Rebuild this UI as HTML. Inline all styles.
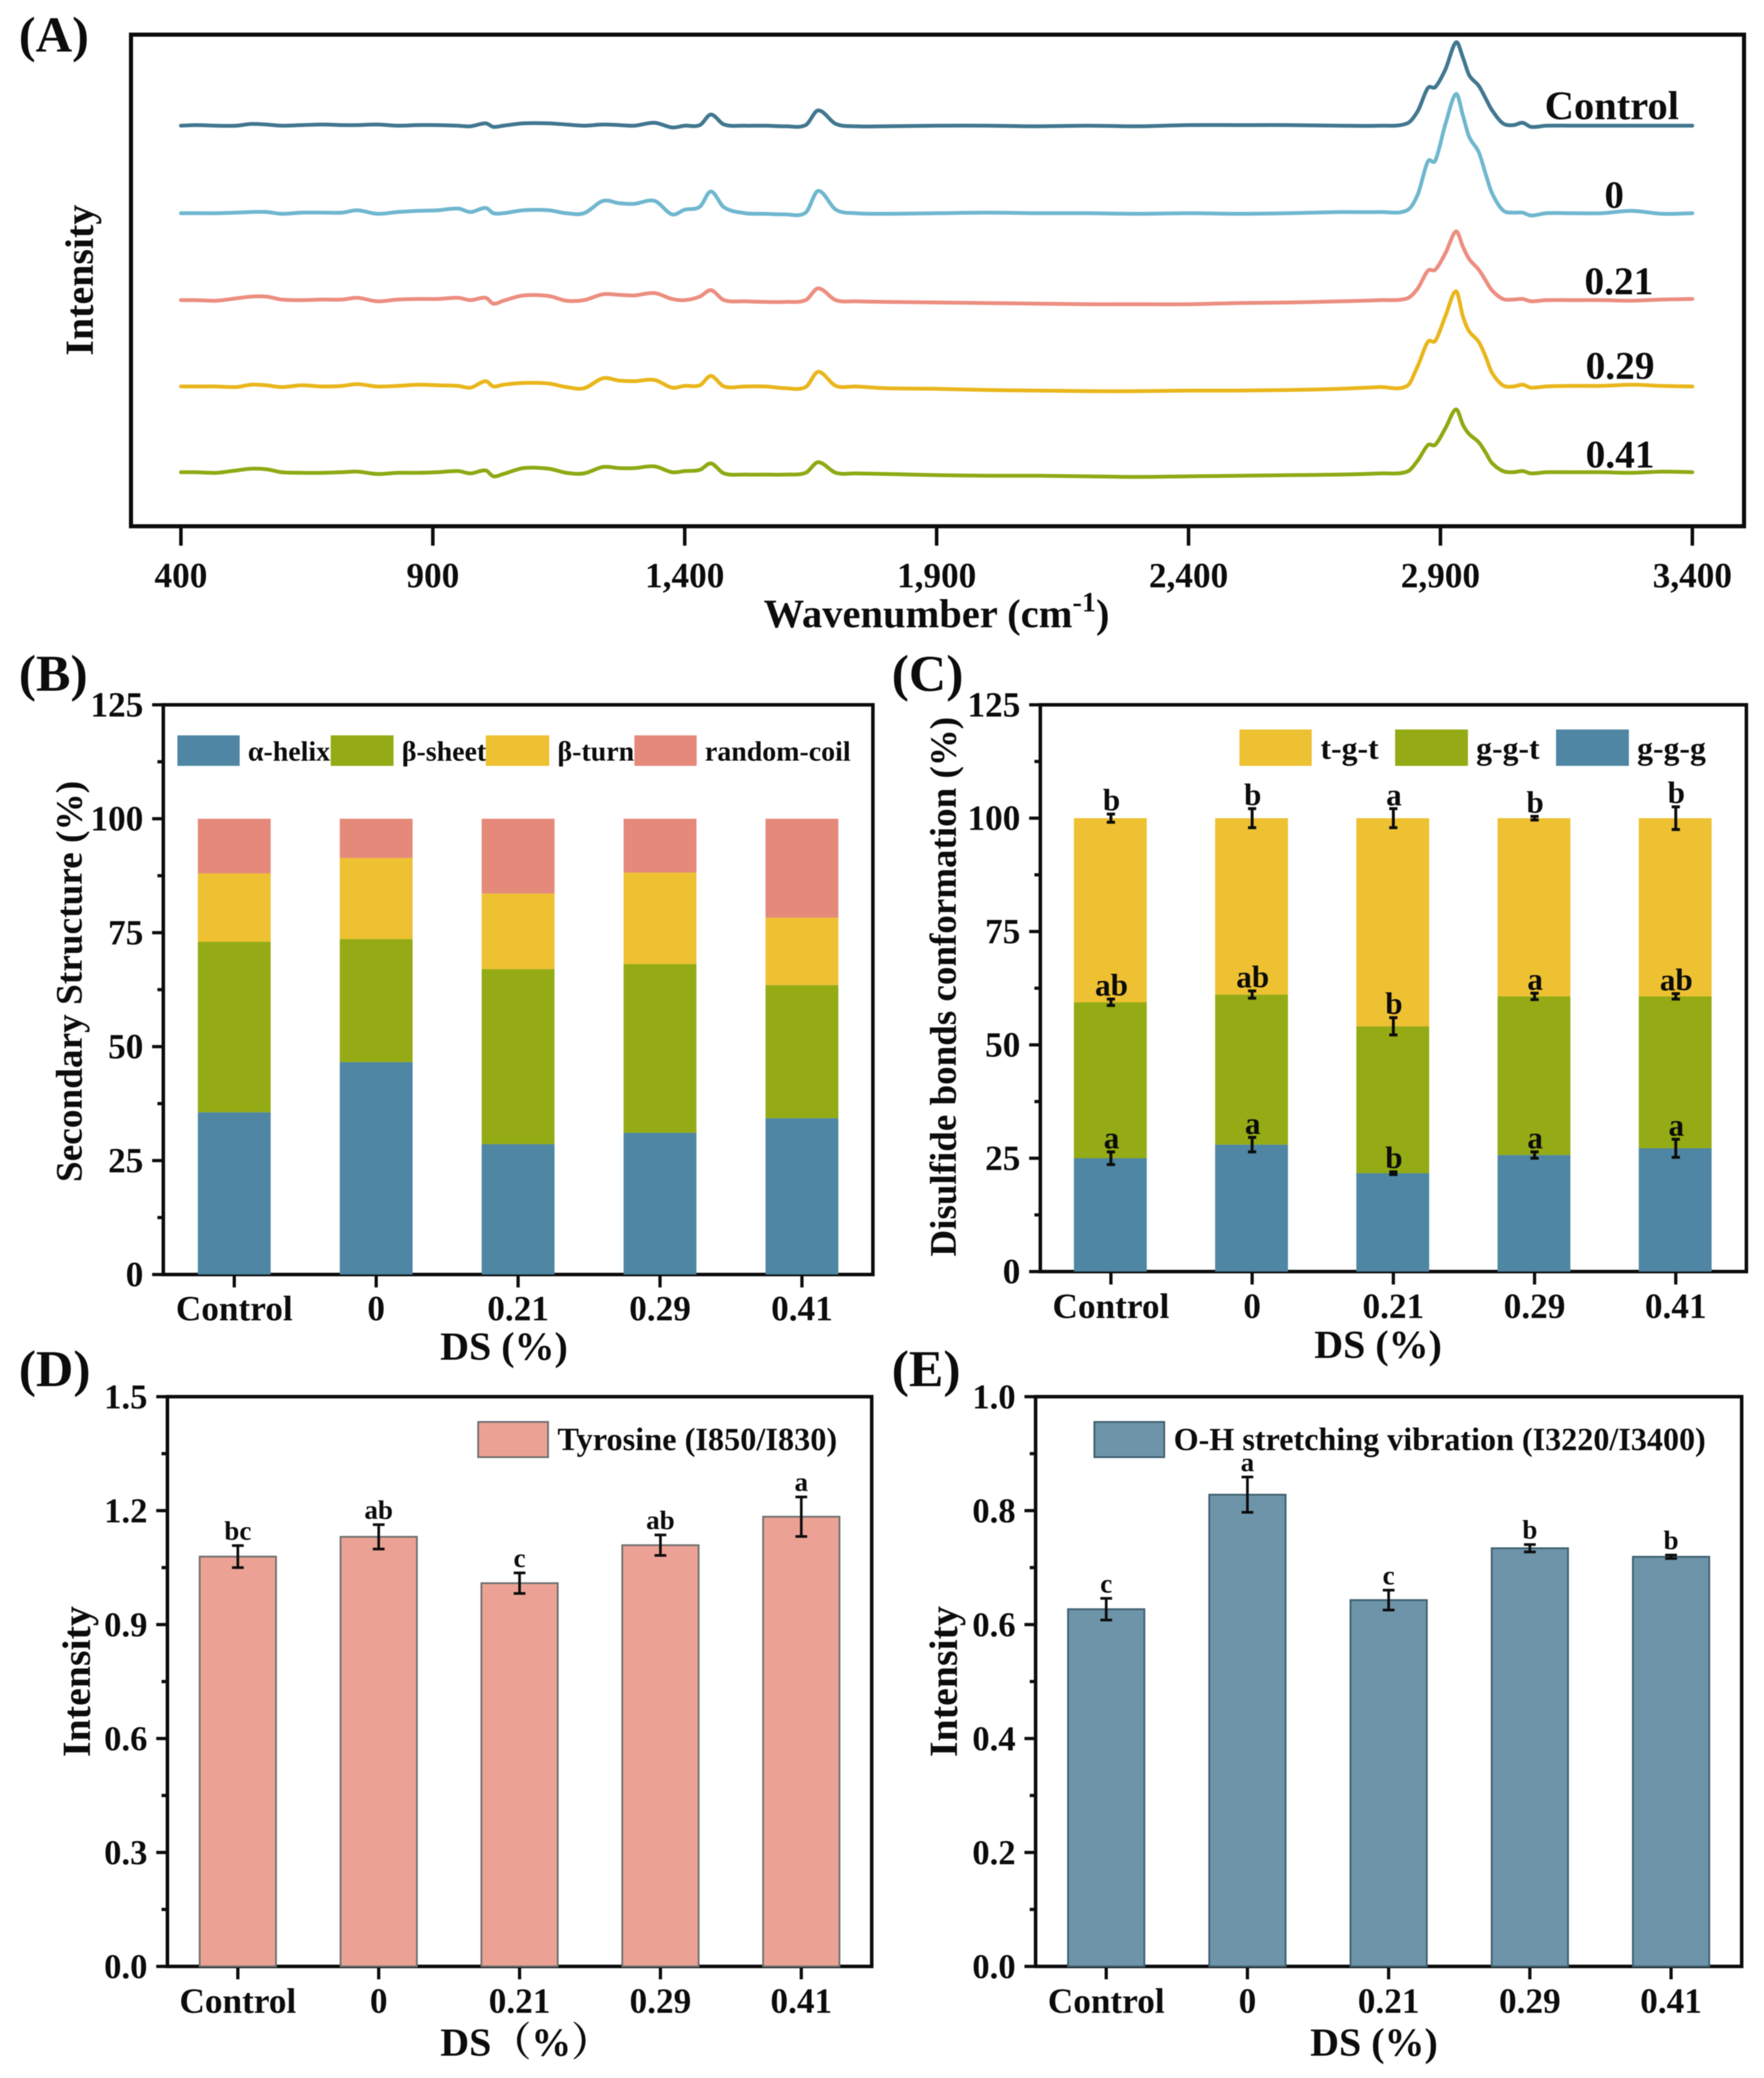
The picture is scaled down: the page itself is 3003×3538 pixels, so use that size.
<!DOCTYPE html>
<html lang="en">
<head>
<meta charset="utf-8">
<title>Raman spectra and structural analysis panels</title>
<style>
html,body{margin:0;padding:0;background:#fff;}
svg{display:block;filter:blur(0.9px);}
text{font-family:"Liberation Serif","Noto Serif CJK SC",serif;font-weight:bold;fill:#0c0c0c;}
</style>
</head>
<body>
<svg id="figure" xmlns="http://www.w3.org/2000/svg" width="3003" height="3538" viewBox="0 0 3003 3538">
<rect x="0" y="0" width="3003" height="3538" fill="#ffffff"/>

<g id="panel-a">
  <text x="32" y="88" font-size="86">(A)</text>
  <rect x="223" y="59" width="2746" height="837" fill="none" stroke="#0c0c0c" stroke-width="7"/>
  <text transform="translate(158,477) rotate(-90)" text-anchor="middle" font-size="68">Intensity</text>
  <text x="1300" y="1068" font-size="69">Wavenumber (cm<tspan dy="-27" font-size="48">-1</tspan><tspan dy="27">)</tspan></text>
  <text x="2744" y="203" text-anchor="middle" font-size="69">Control</text>
  <text x="2748" y="354" text-anchor="middle" font-size="66">0</text>
  <text x="2756" y="501" text-anchor="middle" font-size="67">0.21</text>
  <text x="2758" y="645" text-anchor="middle" font-size="67">0.29</text>
  <text x="2758" y="796" text-anchor="middle" font-size="67">0.41</text>
</g>

<g id="panel-b">
  <text x="32" y="1176" font-size="88">(B)</text>
  <text transform="translate(139,1671) rotate(-90)" text-anchor="middle" font-size="63.5">Secondary Structure (%)</text>
  <text x="858" y="2315" text-anchor="middle" font-size="68">DS (%)</text>
  <rect x="302" y="1252" width="106" height="52" fill="#4e86a3"/>
  <text x="422" y="1295" font-size="47.5">α-helix</text>
  <rect x="563" y="1252" width="107" height="52" fill="#94ab15"/>
  <text x="684" y="1295" font-size="47.5">β-sheet</text>
  <rect x="827" y="1252" width="108" height="52" fill="#eec132"/>
  <text x="949" y="1295" font-size="47.5">β-turn</text>
  <rect x="1080" y="1252" width="106" height="52" fill="#e5897a"/>
  <text x="1200" y="1295" font-size="47.5">random-coil</text>
</g>

<g id="panel-c">
  <text x="1518" y="1176" font-size="88">(C)</text>
  <text transform="translate(1627,1680) rotate(-90)" text-anchor="middle" font-size="63">Disulfide bonds conformation (%)</text>
  <text x="2346" y="2312" text-anchor="middle" font-size="68">DS (%)</text>
  <rect x="2110" y="1242" width="123" height="62" fill="#eec132"/>
  <text x="2248" y="1292" font-size="54">t-g-t</text>
  <rect x="2375" y="1242" width="124" height="62" fill="#94ab15"/>
  <text x="2513" y="1292" font-size="54">g-g-t</text>
  <rect x="2649" y="1242" width="124" height="62" fill="#4e86a3"/>
  <text x="2787" y="1292" font-size="54">g-g-g</text>
</g>

<g id="panel-d">
  <text x="32" y="2360" font-size="88">(D)</text>
  <text transform="translate(153,2863) rotate(-90)" text-anchor="middle" font-size="68">Intensity</text>
  <text x="895" y="3500" text-anchor="middle" font-size="68">DS（%）</text>
  <rect x="814" y="2421" width="119" height="60" fill="#eba294" stroke="#6f6f6f" stroke-width="3"/>
  <text x="949" y="2469" font-size="55">Tyrosine (I850/I830)</text>
</g>

<g id="panel-e">
  <text x="1518" y="2360" font-size="88">(E)</text>
  <text transform="translate(1629,2863) rotate(-90)" text-anchor="middle" font-size="68">Intensity</text>
  <text x="2339" y="3500" text-anchor="middle" font-size="68">DS (%)</text>
  <rect x="1863" y="2421" width="119" height="60" fill="#6d94a9" stroke="#3f5f6f" stroke-width="3"/>
  <text x="1998" y="2469" font-size="54.7">O-H stretching vibration (I3220/I3400)</text>
</g>
</svg>

<script>
// ---------- Shared categories ----------
const categories = ['Control', '0', '0.21', '0.29', '0.41'];

// ---------- Panel A: spectra (intensity above each trace's own baseline) ----------
const wavenumbers = [
  400,430,470,510,540,570,600,640,680,720,
  750,790,830,870,910,950,975,1005,1020,1040,
  1080,1130,1165,1200,1238,1270,1300,1340,1375,1400,
  1430,1452,1478,1520,1560,1600,1640,1665,1700,1740,
  1800,1900,2000,2100,2200,2300,2400,2500,2600,2700,
  2780,2834,2855,2875,2890,2910,2931,2945,2957,2976,
  2990,3002,3024,3045,3063,3080,3110,3160,3220,3280,
  3340,3400];
const spectrumControl = [
  0,1,0,0,3,2,0,1,2,1,
  1,2,0,1,1,0,-1,4,-2,0,
  4,4,2,0,2,1,0,5,-3,0,
  1,19,2,0,0,-1,1,26,3,-1,
  -1,0,0,-1,0,-1,1,1,1,0,
  0,4,25,64,66,96,142,115,86,68,
  46,27,4,1,5,-2,0,0,0,0,
  0,0];
const spectrum0 = [
  0,0,0,1,2,2,-1,1,1,1,
  5,-1,2,4,5,8,2,9,0,0,
  5,5,0,0,21,17,16,21,-2,6,
  11,37,10,0,-1,-2,1,38,6,0,
  -1,0,1,0,0,-1,0,-1,0,2,
  2,5,32,88,90,152,203,165,130,104,
  66,35,5,1,1,-4,0,0,0,4,
  -1,0];
const spectrum021 = [
  0,0,-1,3,6,6,1,0,1,1,
  4,-2,1,2,2,4,0,4,-6,-1,
  8,7,-1,0,10,9,8,12,2,0,
  6,17,0,-2,-3,-3,0,20,0,-2,
  -3,-4,-5,-6,-7,-7,-7,-5,-4,-2,
  0,3,20,50,52,80,117,90,70,52,
  33,17,2,1,2,-2,0,0,0,-1,
  1,2];
const spectrum029 = [
  0,0,0,-1,3,2,-1,2,0,1,
  4,0,1,3,2,1,-2,9,0,3,
  6,5,-1,-3,14,10,9,11,-2,1,
  2,18,0,0,0,-3,-1,25,1,0,
  -3,-4,-6,-7,-8,-8,-7,-7,-6,-4,
  -1,1,35,76,78,120,162,118,94,76,
  50,24,2,0,3,-2,0,1,1,3,
  1,0];
const spectrum041 = [
  0,0,-1,3,6,5,0,-1,-1,0,
  1,-3,-1,-1,0,2,-2,3,-7,-3,
  7,6,-1,-2,9,7,7,10,0,2,
  4,15,-2,-4,-4,-4,-1,17,-1,-2,
  -3,-5,-6,-6,-7,-8,-7,-6,-5,-4,
  -2,1,20,46,47,75,107,80,65,51,
  33,16,2,0,2,-2,0,0,0,-1,
  1,0];
const spectrumStackOffsets = [682, 533, 385, 238, 92];
const wavenumberTicks = [400, 900, 1400, 1900, 2400, 2900, 3400];
const wavenumberTickLabels = ['400', '900', '1,400', '1,900', '2,400', '2,900', '3,400'];

// ---------- Panel B: secondary structure (%) ----------
const alphaHelix = [35.6, 46.6, 28.6, 31.1, 34.3];
const betaSheet = [37.4, 27.0, 38.4, 37.0, 29.2];
const betaTurn = [15.0, 17.8, 16.6, 20.1, 14.8];
const randomCoil = [12.0, 8.6, 16.4, 11.8, 21.7];

// ---------- Panel C: disulfide conformation (%) ----------
const gggValues = [25.0, 28.0, 21.7, 25.7, 27.2];
const ggtValues = [34.4, 33.1, 32.4, 35.0, 33.5];
const tgtValues = [40.6, 38.9, 45.9, 39.3, 39.3];
const gggErrors = [1.4, 1.6, 0.3, 0.7, 2.0];
const ggtErrors = [0.7, 0.8, 1.9, 0.7, 0.6];
const tgtErrors = [0.9, 2.1, 2.1, 0.4, 2.5];
const gggLetters = ['a', 'a', 'b', 'a', 'a'];
const ggtLetters = ['ab', 'ab', 'b', 'a', 'ab'];
const tgtLetters = ['b', 'b', 'a', 'b', 'b'];
const percentTicks = [0, 25, 50, 75, 100, 125];
const percentTickLabels = ['0', '25', '50', '75', '100', '125'];

// ---------- Panel D: tyrosine ratio ----------
const tyrosineValues = [1.079, 1.131, 1.009, 1.109, 1.184];
const tyrosineErrors = [0.029, 0.032, 0.027, 0.027, 0.052];
const tyrosineLetters = ['bc', 'ab', 'c', 'ab', 'a'];
const tyrosineTicks = [0, 0.3, 0.6, 0.9, 1.2, 1.5];
const tyrosineTickLabels = ['0.0', '0.3', '0.6', '0.9', '1.2', '1.5'];

// ---------- Panel E: O-H stretching ratio ----------
const ohValues = [0.627, 0.828, 0.643, 0.734, 0.719];
const ohErrors = [0.019, 0.031, 0.0175, 0.0065, 0.003];
const ohLetters = ['c', 'a', 'c', 'b', 'b'];
const ohTicks = [0, 0.2, 0.4, 0.6, 0.8, 1.0];
const ohTickLabels = ['0.0', '0.2', '0.4', '0.6', '0.8', '1.0'];

// ---------- Drawing ----------
const NS = 'http://www.w3.org/2000/svg';
const INK = '#0c0c0c';

function make(parent, tag, attrs, content) {
  const el = document.createElementNS(NS, tag);
  for (const k in attrs) el.setAttribute(k, attrs[k]);
  if (content !== undefined) el.textContent = content;
  parent.appendChild(el);
  return el;
}
function label(el, name) {
  
  
  return el;
}
function linear(d0, d1, r0, r1) {
  return function (v) { return r0 + (v - d0) * (r1 - r0) / (d1 - d0); };
}
function smoothPath(xs, ys) {
  const n = xs.length;
  const slope = function (i) {
    const a = Math.max(0, i - 1), b = Math.min(n - 1, i + 1);
    return (ys[b] - ys[a]) / (xs[b] - xs[a]);
  };
  let d = 'M' + xs[0].toFixed(1) + ' ' + ys[0].toFixed(1);
  for (let i = 0; i < n - 1; i++) {
    const dx = xs[i + 1] - xs[i];
    d += 'C' + (xs[i] + dx / 3).toFixed(1) + ' ' + (ys[i] + slope(i) * dx / 3).toFixed(1) +
         ' ' + (xs[i + 1] - dx / 3).toFixed(1) + ' ' + (ys[i + 1] - slope(i + 1) * dx / 3).toFixed(1) +
         ' ' + xs[i + 1].toFixed(1) + ' ' + ys[i + 1].toFixed(1);
  }
  return d;
}

// Frame, ticks and tick labels for a category panel
function drawAxes(g, prefix, box, yMax, yTicks, yLabels, yFont) {
  const y = linear(0, yMax, box.bottom, box.top);
  const frame = make(g, 'rect', {x: box.left, y: box.top, width: box.right - box.left, height: box.bottom - box.top, fill: 'none', stroke: INK, 'stroke-width': 6});
  label(frame, prefix + '-frame');
  yTicks.forEach(function (t, i) {
    const tick = make(g, 'line', {x1: box.left - 19, x2: box.left, y1: y(t), y2: y(t), stroke: INK, 'stroke-width': 5.5});
    label(tick, prefix + '-y-tick');
    const txt = make(g, 'text', {x: box.left - 34, y: y(t) + 20, 'text-anchor': 'end', 'font-size': yFont}, yLabels[i]);
    label(txt, prefix + '-y-tick-label');
    if (i < yTicks.length - 1) {
      const mid = (t + yTicks[i + 1]) / 2;
      const minor = make(g, 'line', {x1: box.left - 10, x2: box.left, y1: y(mid), y2: y(mid), stroke: INK, 'stroke-width': 5.5});
      label(minor, prefix + '-y-minor-tick');
    }
  });
  categories.forEach(function (c, i) {
    const cx = box.left + (i + 0.5) * (box.right - box.left) / categories.length;
    const tick = make(g, 'line', {x1: cx, x2: cx, y1: box.bottom, y2: box.bottom + 22, stroke: INK, 'stroke-width': 5.5});
    label(tick, prefix + '-x-tick');
    const txt = make(g, 'text', {x: cx, y: box.labelBaseline, 'text-anchor': 'middle', 'font-size': 60}, c);
    label(txt, prefix + '-x-tick-label');
  });
  return y;
}

function drawErrorBar(g, name, cx, yLow, yHigh, cap, sw) {
  const stem = make(g, 'line', {x1: cx, x2: cx, y1: yLow, y2: yHigh, stroke: INK, 'stroke-width': sw});
  label(stem, name + '-error-stem');
  [yLow, yHigh].forEach(function (yy) {
    const c = make(g, 'line', {x1: cx - cap / 2, x2: cx + cap / 2, y1: yy, y2: yy, stroke: INK, 'stroke-width': sw});
    label(c, name + '-error-cap');
  });
}

// ---------- Panel A ----------
(function () {
  const g = document.getElementById('panel-a');
  const box = {left: 223, right: 2969, top: 59, bottom: 896};
  const x = linear(400, 3400, 308, 2881);
  const y = function (v, offset) { return box.bottom - (v + offset); };
  const specs = [
    {name: 'spectrum-control', data: spectrumControl, color: '#41778f'},
    {name: 'spectrum-0', data: spectrum0, color: '#6fb7cf'},
    {name: 'spectrum-0-21', data: spectrum021, color: '#ec8e80'},
    {name: 'spectrum-0-29', data: spectrum029, color: '#e9b61c'},
    {name: 'spectrum-0-41', data: spectrum041, color: '#8daa14'}
  ];
  specs.forEach(function (s, k) {
    const xs = wavenumbers.map(x);
    const ys = s.data.map(function (v) { return y(v, spectrumStackOffsets[k]); });
    const p = make(g, 'path', {d: smoothPath(xs, ys), fill: 'none', stroke: s.color, 'stroke-width': 6.5, 'stroke-linejoin': 'round', 'stroke-linecap': 'round'});
    label(p, s.name);
  });
  wavenumberTicks.forEach(function (t, i) {
    const tick = make(g, 'line', {x1: x(t), x2: x(t), y1: box.bottom, y2: box.bottom + 33, stroke: INK, 'stroke-width': 6});
    label(tick, 'panel-a-x-tick');
    const txt = make(g, 'text', {x: x(t), y: 1000, 'text-anchor': 'middle', 'font-size': 60}, wavenumberTickLabels[i]);
    label(txt, 'panel-a-x-tick-label');
  });
})();

// ---------- Panel B ----------
(function () {
  const g = document.getElementById('panel-b');
  const box = {left: 278, right: 1486, top: 1200, bottom: 2170, labelBaseline: 2248};
  const y = drawAxes(g, 'panel-b', box, 125, percentTicks, percentTickLabels, 60);
  const layers = [
    {name: 'bar-alpha-helix', data: alphaHelix, color: '#4e86a3'},
    {name: 'bar-beta-sheet', data: betaSheet, color: '#94ab15'},
    {name: 'bar-beta-turn', data: betaTurn, color: '#eec132'},
    {name: 'bar-random-coil', data: randomCoil, color: '#e5897a'}
  ];
  const band = (box.right - box.left) / categories.length;
  categories.forEach(function (c, i) {
    const cx = box.left + (i + 0.5) * band;
    let base = 0;
    layers.forEach(function (l) {
      const top = base + l.data[i];
      const r = make(g, 'rect', {x: cx - 62, y: y(top), width: 124, height: y(base) - y(top), fill: l.color});
      label(r, l.name);
      base = top;
    });
  });
})();

// ---------- Panel C ----------
(function () {
  const g = document.getElementById('panel-c');
  const box = {left: 1771, right: 2973, top: 1200, bottom: 2165, labelBaseline: 2244};
  const y = drawAxes(g, 'panel-c', box, 125, percentTicks, percentTickLabels, 60);
  const layers = [
    {name: 'bar-g-g-g', data: gggValues, err: gggErrors, letters: gggLetters, color: '#4e86a3'},
    {name: 'bar-g-g-t', data: ggtValues, err: ggtErrors, letters: ggtLetters, color: '#94ab15'},
    {name: 'bar-t-g-t', data: tgtValues, err: tgtErrors, letters: tgtLetters, color: '#eec132'}
  ];
  const band = (box.right - box.left) / categories.length;
  categories.forEach(function (c, i) {
    const cx = box.left + (i + 0.5) * band - 1;
    let base = 0;
    layers.forEach(function (l) {
      const top = base + l.data[i];
      const r = make(g, 'rect', {x: cx - 62, y: y(top), width: 124, height: y(base) - y(top), fill: l.color});
      label(r, l.name);
      base = top;
    });
    base = 0;
    layers.forEach(function (l) {
      const top = base + l.data[i];
      drawErrorBar(g, l.name, cx + 1, y(top - l.err[i]), y(top + l.err[i]), 14, 5);
      const t = make(g, 'text', {x: cx + 2, y: y(top + l.err[i]) - 6, 'text-anchor': 'middle', 'font-size': 53}, l.letters[i]);
      label(t, l.name + '-significance-letter');
      base = top;
    });
  });
})();

// ---------- Panels D and E ----------
function drawSingleBars(id, prefix, box, yMax, ticks, tickLabels, values, errors, letters, fill, edge) {
  const g = document.getElementById(id);
  const y = drawAxes(g, prefix, box, yMax, ticks, tickLabels, 59);
  const band = (box.right - box.left) / categories.length;
  categories.forEach(function (c, i) {
    const cx = box.left + (i + 0.5) * band;
    const r = make(g, 'rect', {x: cx - 65, y: y(values[i]), width: 130, height: y(0) - y(values[i]), fill: fill, stroke: edge, 'stroke-width': 3});
    label(r, prefix + '-bar');
    drawErrorBar(g, prefix + '-bar', cx, y(values[i] - errors[i]), y(values[i] + errors[i]), 20, 4.5);
    const t = make(g, 'text', {x: cx, y: y(values[i] + errors[i]) - 10, 'text-anchor': 'middle', 'font-size': 46}, letters[i]);
    label(t, prefix + '-significance-letter');
  });
}
drawSingleBars('panel-d', 'panel-d', {left: 285, right: 1484, top: 2378, bottom: 3348, labelBaseline: 3427}, 1.5,
  tyrosineTicks, tyrosineTickLabels, tyrosineValues, tyrosineErrors, tyrosineLetters, '#eba294', '#6f6f6f');
drawSingleBars('panel-e', 'panel-e', {left: 1763, right: 2965, top: 2378, bottom: 3348, labelBaseline: 3427}, 1.0,
  ohTicks, ohTickLabels, ohValues, ohErrors, ohLetters, '#6d94a9', '#3f5f6f');
</script>
</body>
</html>
